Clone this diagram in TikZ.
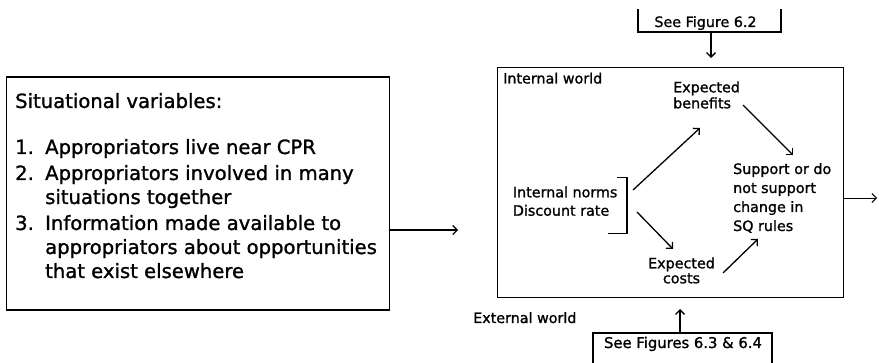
\documentclass[tikz,border=0pt]{standalone}
\usepackage{fontspec}
\setmainfont{DejaVu Sans}[FakeBold=1.2]
\usetikzlibrary{arrows.meta}
\newcommand{\mlines}[2][l]{\begin{tabular}[t]{@{}#1@{}}#2\end{tabular}}
\begin{document}
\begin{tikzpicture}[x=1pt,y=-1pt,
  box/.style={draw, line width=1.4pt, inner sep=0pt},
  edge/.style={line width=1.4pt},
  arr/.style={line width=1.3pt, -{Straight Barb[length=4.5pt,width=9pt]}},
  bigtxt/.style={font=\fontsize{19.6}{24}\selectfont, inner sep=0pt},
  smalltxt/.style={font=\fontsize{14.3}{17}\selectfont, inner sep=0pt},
]
\useasboundingbox (0,0) rectangle (879,363);
\fill[white] (0,0) rectangle (879,363);

% ---------- left box: situational variables
\node[box, minimum width=383pt, minimum height=233pt, anchor=north west] (sitbox) at (6,76.5) {};
\node[bigtxt, anchor=base west] (sittitle) at (15,108) {Situational variables:};
\node[bigtxt, anchor=base west] (sitlist) at (15,154)
  {\begin{tabular}[t]{@{}p{30pt}@{}l@{}}
   1. & Appropriators live near CPR\\[2pt]
   2. & Appropriators involved in many\\
      & situations together\\[2pt]
   3. & Information made available to\\
      & appropriators about opportunities\\
      & that exist elsewhere
   \end{tabular}};

% ---------- right box: internal world
\node[box, minimum width=346pt, minimum height=230pt, anchor=north west] (world) at (497,67) {};
\node[smalltxt, anchor=base west] (internal) at (503,83.5) {Internal world};
\node[smalltxt, font=\fontsize{14.3}{16}\selectfont, anchor=base west] (benefits) at (673,92.3) {\mlines{Expected\\benefits}};
\node[smalltxt, font=\fontsize{14.3}{19}\selectfont, anchor=base west] (support) at (733,174) {\mlines{Support or do\\not support\\change in\\SQ rules}};
\node[smalltxt, font=\fontsize{14.3}{18.4}\selectfont, anchor=base west] (norms) at (512.7,197.3) {\mlines{Internal norms\\Discount rate}};
\node[smalltxt, font=\fontsize{14.3}{15}\selectfont, anchor=base] (costs) at (681.5,268.3) {\mlines[c]{Expected\\costs}};
\node[smalltxt, anchor=base west] (external) at (473,323) {External world};

% bracket grouping the norms
\draw[edge] (617,177.3) -- (627,177.3) -- (627,233.5) -- (608,233.5);

% ---------- reference boxes
\node[smalltxt, anchor=base] (see62) at (705.5,27) {See Figure 6.2};
\draw[edge] (638,9) -- (638,32) -- (781,32) -- (781,9);
\node[smalltxt, font=\fontsize{14.8}{18}\selectfont, anchor=base] (see634) at (683,348) {See Figures 6.3 \& 6.4};
\draw[edge] (593,370) -- (593,333) -- (772,333) -- (772,370);

% ---------- connectors
\coordinate (topS) at (711,32);
\coordinate (topE) at (711,58);
\draw[arr] (topS) -- (topE);
\coordinate (botS) at (680,333);
\coordinate (botE) at (680,309);
\draw[arr] (botS) -- (botE);
\coordinate (leftE) at (458,230);
\draw[arr, line width=1.1pt] (sitbox.east |- leftE) -- (leftE);
\coordinate (rightE) at (877,198);
\draw[arr, line width=0.9pt] (world.east |- rightE) -- (rightE);

\coordinate (nb1) at (633,190);
\coordinate (nb2) at (700,128);
\draw[arr] (nb1) -- (nb2);
\coordinate (nc1) at (637,212);
\coordinate (nc2) at (673,249);
\draw[arr] (nc1) -- (nc2);
\coordinate (cs1) at (723,273);
\coordinate (cs2) at (758,239);
\draw[arr] (cs1) -- (cs2);
\coordinate (bs1) at (743,105);
\coordinate (bs2) at (793,155);
\draw[arr] (bs1) -- (bs2);
\end{tikzpicture}
\end{document}
